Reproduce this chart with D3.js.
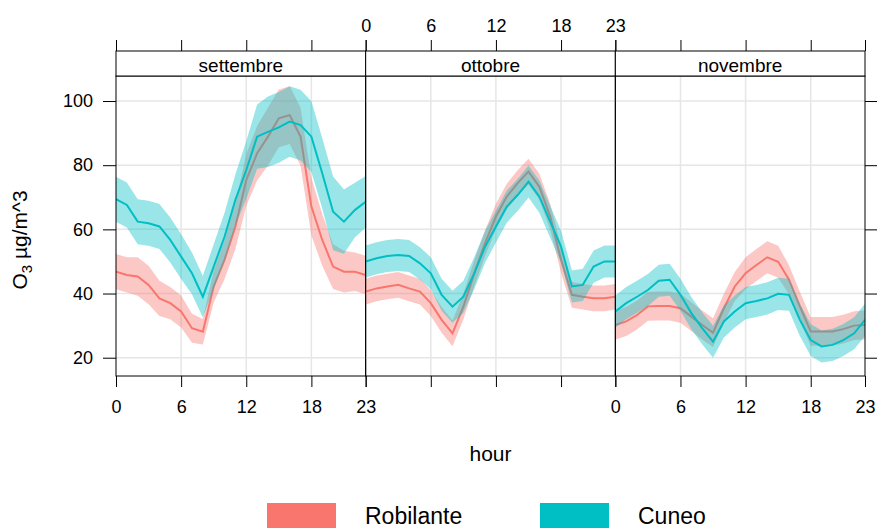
<!DOCTYPE html>
<html>
<head>
<meta charset="utf-8">
<script src="https://cdn.jsdelivr.net/npm/d3@7"></script>
<style>
  body { margin: 0; background: #fff; }
  text { font-family: "Liberation Sans", Arial, sans-serif; fill: #000; }
</style>
</head>
<body>
<svg id="vis"></svg>
<script>
// data
var months = ["settembre", "ottobre", "novembre"];
var sites = ["Robilante", "Cuneo"];
var siteColors = ["#F8766D", "#00BFC4"];
var hours = d3.range(24);
var xTicks = [0, 6, 12, 18, 23];
var yTicks = [20, 40, 60, 80, 100];

// settembre
var robSetMean = [46.8,45.8,45.3,42.7,38.5,37.0,34.4,29.2,28.1,42.2,50.5,60.9,75.4,83.7,88.9,94.6,95.6,88.9,67.1,56.7,48.4,46.8,46.8,45.8];
var robSetLo   = [41.3,40.3,39.3,36.7,33.0,32.0,29.4,24.7,24.1,37.2,44.5,53.9,67.4,75.2,79.9,85.6,86.6,79.9,58.1,48.7,41.4,40.3,40.8,39.8];
var robSetHi   = [52.3,51.3,51.3,48.7,44.0,42.0,39.4,33.7,32.1,47.2,56.5,67.9,83.4,92.2,97.9,103.6,104.6,97.9,76.1,64.7,55.4,53.3,52.8,51.8];
var cunSetMean = [69.4,67.6,62.4,61.9,60.9,56.7,51.5,46.3,39.0,48.4,57.7,69.2,78.5,88.9,90.4,91.8,93.6,92.5,88.9,77.5,65.5,62.4,66.0,68.6];
var cunSetLo   = [62.4,60.6,55.4,54.9,53.9,49.7,44.5,39.8,32.5,41.4,50.2,61.2,69.5,78.9,79.4,80.8,82.6,81.5,77.9,66.5,53.5,52.4,57.5,60.6];
var cunSetHi   = [76.4,74.6,69.4,68.9,67.9,63.7,58.5,52.8,45.5,55.4,65.2,77.2,87.5,98.9,101.4,102.8,104.6,103.5,99.9,88.5,76.5,72.4,74.5,76.6];

// ottobre
var robOttMean = [40.6,41.6,42.2,42.7,41.6,40.6,37.0,31.8,27.6,35.9,46.3,55.7,64.0,70.2,74.4,78.0,73.3,64.0,50.5,39.6,39.0,38.5,38.5,39.0];
var robOttLo   = [36.6,37.6,38.2,38.7,37.6,36.6,33.0,27.8,23.6,31.9,42.3,51.7,60.0,66.2,70.4,74.0,69.3,60.0,46.5,35.6,35.0,34.5,34.5,35.0];
var robOttHi   = [44.6,45.6,46.2,46.7,45.6,44.6,41.0,35.8,31.6,39.9,50.3,59.7,68.0,74.2,78.4,82.0,77.3,68.0,54.5,43.6,43.0,42.5,42.5,43.0];
var cunOttMean = [50.0,51.0,51.7,52.0,51.7,49.4,46.3,39.6,35.9,39.0,46.3,54.6,60.9,67.1,70.7,74.9,70.2,62.4,54.6,42.2,42.7,48.4,50.0,50.0];
var cunOttLo   = [45.0,46.0,46.7,47.0,46.7,44.4,41.3,34.6,30.9,34.0,41.3,49.6,55.9,62.1,65.7,69.9,65.2,57.4,49.6,37.2,37.7,43.4,45.0,45.0];
var cunOttHi   = [55.0,56.0,56.7,57.0,56.7,54.4,51.3,44.6,40.9,44.0,51.3,59.6,65.9,72.1,75.7,79.9,75.2,67.4,59.6,47.2,47.7,53.4,55.0,55.0];

// novembre
var robNovMean = [30.2,31.3,33.3,36.0,36.1,36.1,35.4,32.8,30.2,27.8,35.4,42.2,46.3,48.9,51.3,49.9,44.3,36.0,28.2,28.2,28.2,28.9,30.0,30.2];
var robNovLo   = [25.7,26.8,28.8,31.5,31.6,31.6,30.9,28.3,25.7,23.3,30.9,37.7,41.3,43.9,46.3,44.9,39.8,31.5,23.7,23.7,23.7,24.4,25.5,25.7];
var robNovHi   = [34.7,35.8,37.8,40.5,40.6,40.6,39.9,37.3,34.7,32.3,39.9,46.7,51.3,53.9,56.3,54.9,48.8,40.5,32.7,32.7,32.7,33.4,34.5,34.7];
var cunNovMean = [34.4,37.0,39.0,41.1,44.0,44.3,39.6,33.9,29.2,25.0,31.3,34.4,37.0,37.7,38.5,39.9,39.6,31.8,25.5,23.5,24.0,25.5,27.6,31.8];
var cunNovLo   = [29.4,32.0,34.0,36.1,39.0,39.3,34.6,28.9,24.2,20.0,26.3,29.4,32.0,32.7,33.5,34.9,34.6,26.8,20.5,18.5,19.0,20.5,22.6,26.8];
var cunNovHi   = [39.4,42.0,44.0,46.1,49.0,49.3,44.6,38.9,34.2,30.0,36.3,39.4,42.0,42.7,43.5,44.9,44.6,36.8,30.5,28.5,29.0,30.5,32.6,36.8];

var panelData = [
    [{mean: robSetMean, lo: robSetLo, hi: robSetHi}, {mean: cunSetMean, lo: cunSetLo, hi: cunSetHi}],
    [{mean: robOttMean, lo: robOttLo, hi: robOttHi}, {mean: cunOttMean, lo: cunOttLo, hi: cunOttHi}],
    [{mean: robNovMean, lo: robNovLo, hi: robNovHi}, {mean: cunNovMean, lo: cunNovLo, hi: cunNovHi}]
];

var width = 879, height = 528;
var plotLeft = 116, plotRight = 865,
    stripTop = 51, panelTop = 76, panelBottom = 376,
    tickLen = 11;
var panelW = (plotRight - plotLeft) / months.length;

var svg = d3.select("#vis")
    .attr("width", width)
    .attr("height", height);

var y = d3.scaleLinear()
    .domain([14.3, 107.8])
    .range([panelBottom, panelTop]);

function styleAxis(a) {
    a.select(".domain").remove();
    a.selectAll("line").attr("stroke", "#000");
    a.selectAll("text").style("font-size", "18px").attr("fill", "#000")
        .style("font-family", "'Liberation Sans', Arial, sans-serif");
}

months.forEach(function(m, p) {
    var left = plotLeft + p * panelW;
    var x = d3.scaleLinear()
        .domain([0, 23])
        .range([left, left + panelW]);

    var g = svg.append("g").attr("class", "panel");

    svg.append("defs").append("clipPath")
        .attr("id", "clip" + p)
        .append("rect")
        .attr("x", left).attr("y", panelTop)
        .attr("width", panelW).attr("height", panelBottom - panelTop);

    // grid
    g.append("g").selectAll("line")
        .data(yTicks)
        .enter().append("line")
        .attr("x1", left).attr("x2", left + panelW)
        .attr("y1", function(d) {return y(d);})
        .attr("y2", function(d) {return y(d);})
        .attr("stroke", "#e6e6e6")
        .attr("stroke-width", 1.5);
    g.append("g").selectAll("line")
        .data([6, 12, 18])
        .enter().append("line")
        .attr("y1", panelTop).attr("y2", panelBottom)
        .attr("x1", function(d) {return x(d);})
        .attr("x2", function(d) {return x(d);})
        .attr("stroke", "#e6e6e6")
        .attr("stroke-width", 1.5);

    var marks = g.append("g").attr("clip-path", "url(#clip" + p + ")");

    // band then line, Robilante first so Cuneo sits on top
    panelData[p].forEach(function(s, k) {
        var band = d3.area()
            .x(function(h) {return x(h);})
            .y0(function(h) {return y(s.lo[h]);})
            .y1(function(h) {return y(s.hi[h]);});
        var line = d3.line()
            .x(function(h) {return x(h);})
            .y(function(h) {return y(s.mean[h]);});

        marks.append("path")
            .attr("d", band(hours))
            .attr("fill", siteColors[k])
            .attr("fill-opacity", 0.4)
            .attr("stroke", "none");
        marks.append("path")
            .attr("d", line(hours))
            .attr("fill", "none")
            .attr("stroke", siteColors[k])
            .attr("stroke-width", 2);
    });

    // panel border
    g.append("rect")
        .attr("x", left).attr("y", panelTop)
        .attr("width", panelW).attr("height", panelBottom - panelTop)
        .attr("fill", "none")
        .attr("stroke", "#000");

    // strip
    g.append("rect")
        .attr("x", left).attr("y", stripTop)
        .attr("width", panelW).attr("height", panelTop - stripTop)
        .attr("fill", "#fff")
        .attr("stroke", "#000");
    g.append("text")
        .attr("x", left + panelW / 2)
        .attr("y", stripTop + 21)
        .attr("text-anchor", "middle")
        .style("font-size", "19px")
        .text(m);

    // bottom axis (labels on outer panels only)
    var bottom = d3.axisBottom(x).tickValues(xTicks).tickSizeInner(tickLen).tickSizeOuter(0).tickPadding(13);
    if (p == 1) bottom.tickFormat("");
    var gb = g.append("g")
        .attr("transform", "translate(0," + panelBottom + ")")
        .call(bottom);
    styleAxis(gb);

    // top axis (labels on middle panel only)
    var top = d3.axisTop(x).tickValues(xTicks).tickSizeInner(tickLen).tickSizeOuter(0).tickPadding(8);
    if (p != 1) top.tickFormat("");
    var gt = g.append("g")
        .attr("transform", "translate(0," + stripTop + ")")
        .call(top);
    styleAxis(gt);

    if (p == 0) {
        var gl = g.append("g")
            .attr("transform", "translate(" + left + ",0)")
            .call(d3.axisLeft(y).tickValues(yTicks).tickSizeInner(13).tickSizeOuter(0).tickPadding(10));
        styleAxis(gl);
    }
    if (p == months.length - 1) {
        var gr = g.append("g")
            .attr("transform", "translate(" + (left + panelW) + ",0)")
            .call(d3.axisRight(y).tickValues(yTicks).tickSizeInner(12).tickSizeOuter(0).tickFormat(""));
        styleAxis(gr);
    }
});

// axis titles
svg.append("text")
    .attr("x", (plotLeft + plotRight) / 2)
    .attr("y", 461)
    .attr("text-anchor", "middle")
    .style("font-size", "21px")
    .text("hour");

var yl = svg.append("text")
    .attr("transform", "translate(27,240) rotate(-90)")
    .attr("text-anchor", "middle")
    .style("font-size", "21px");
yl.append("tspan").text("O");
yl.append("tspan").attr("dy", 5).style("font-size", "15px").text("3");
yl.append("tspan").attr("dy", -5).text(" \u00b5g/m^3");

// legend
var legX = [267, 540];
sites.forEach(function(s, i) {
    svg.append("rect")
        .attr("x", legX[i]).attr("y", 503)
        .attr("width", 69).attr("height", 30)
        .attr("fill", siteColors[i]);
    svg.append("text")
        .attr("x", legX[i] + 98)
        .attr("y", 524)
        .style("font-size", "23px")
        .text(s);
});
</script>
</body>
</html>
